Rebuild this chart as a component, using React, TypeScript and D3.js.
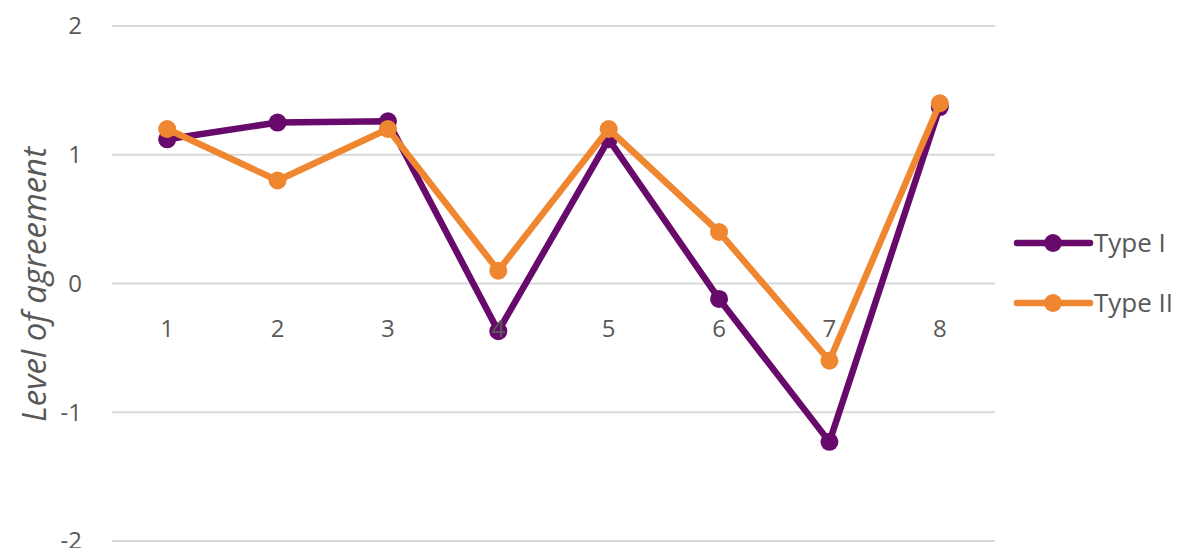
import React from "react";
import * as d3 from "d3";

const categories = ["1", "2", "3", "4", "5", "6", "7", "8"];
const typeI = [1.12, 1.25, 1.26, -0.37, 1.12, -0.12, -1.23, 1.37];
const typeII = [1.2, 0.8, 1.2, 0.1, 1.2, 0.4, -0.6, 1.4];
const yTicks = [2, 1, 0, -1, -2];
const seriesNames = ["Type I", "Type II"];
const seriesColors = ["#680a6c", "#ef8630"];

const W = 1184;
const H = 548;
const left = 112;
const right = 995;
const top = 26;
const bottom = 541;
const font = "'Open Sans', 'Liberation Sans', sans-serif";
const textColor = "#595959";

export default function App() {
  const x = d3.scaleBand<string>().domain(categories).range([left, right]);
  const y = d3.scaleLinear().domain([-2, 2]).range([bottom, top]);
  const cx = (c: string) => (x(c) as number) + x.bandwidth() / 2;
  const line = d3
    .line<number>()
    .x((_, i) => cx(categories[i]))
    .y((v) => y(v));
  const series = [typeI, typeII];

  return (
    <svg
      width={W}
      height={H}
      style={{ position: "absolute", left: 0, top: 0, background: "#fff" }}
    >
      {yTicks.map((t) => (
        <g key={t}>
          <line x1={left} x2={right} y1={y(t)} y2={y(t)} stroke="#d9d9d9" strokeWidth={2} />
          <text
            x={82}
            y={y(t)}
            dy="0.35em"
            textAnchor="end"
            fontFamily={font}
            fontSize={24}
            fill={textColor}
          >
            {t}
          </text>
        </g>
      ))}
      <text
        transform={`translate(46, ${(top + bottom) / 2 + 1}) rotate(-90)`}
        textAnchor="middle"
        fontFamily={font}
        fontStyle="italic"
        fontSize={33}
        fill={textColor}
      >
        Level of agreement
      </text>
      {series.map((vals, si) => (
        <g key={si}>
          <path
            d={line(vals) ?? ""}
            fill="none"
            stroke={seriesColors[si]}
            strokeWidth={6.5}
            strokeLinejoin="round"
          />
          {vals.map((v, i) => (
            <circle key={i} cx={cx(categories[i])} cy={y(v)} r={9} fill={seriesColors[si]} />
          ))}
        </g>
      ))}
      {categories.map((c) => (
        <text
          key={c}
          x={cx(c)}
          y={y(0) + 45}
          dy="0.35em"
          textAnchor="middle"
          fontFamily={font}
          fontSize={24}
          fill={textColor}
        >
          {c}
        </text>
      ))}
      {seriesNames.map((name, si) => {
        const ly = 243 + si * 60;
        return (
          <g key={name}>
            <line x1={1017} x2={1090} y1={ly} y2={ly} stroke={seriesColors[si]} strokeWidth={6.5} strokeLinecap="round" />
            <circle cx={1053} cy={ly} r={9} fill={seriesColors[si]} />
            <text x={1094} y={ly} dy="0.35em" fontFamily={font} fontSize={26} fill={textColor}>
              {name}
            </text>
          </g>
        );
      })}
    </svg>
  );
}
